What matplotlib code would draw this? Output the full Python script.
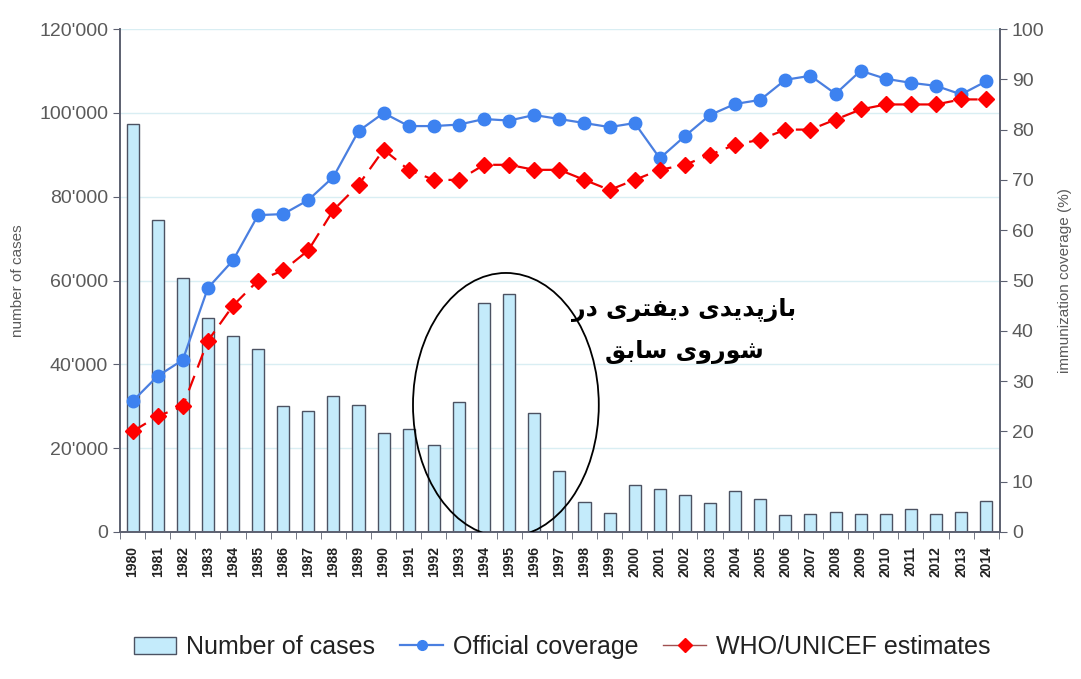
import matplotlib
matplotlib.use("Agg")
import matplotlib.pyplot as plt
from matplotlib.patches import Ellipse, Patch
from matplotlib.lines import Line2D

years = [str(y) for y in range(1980, 2015)]
cases = [97300, 74400, 60600, 51000, 46800, 43700, 30100, 28900, 32400, 30300,
         23600, 24600, 20800, 31100, 54600, 56800, 28500, 14600, 7200, 4500,
         11300, 10300, 8800, 6900, 9900, 7900, 4100, 4400, 4700, 4400,
         4400, 5400, 4400, 4700, 7300]
official = [26, 31, 34.2, 48.5, 54, 63, 63.2, 66, 70.6, 79.7,
            83.3, 80.7, 80.7, 81, 82.1, 81.8, 82.9, 82.1, 81.3, 80.5,
            81.3, 74.3, 78.7, 82.9, 85.1, 85.9, 89.9, 90.7, 87.1, 91.7,
            90.1, 89.3, 88.7, 87, 89.6]
who = [20, 23, 25, 38, 45, 50, 52, 56, 64, 69,
       76, 72, 70, 70, 73, 73, 72, 72, 70, 68,
       70, 72, 73, 75, 77, 78, 80, 80, 82, 84,
       85, 85, 85, 86, 86]
left_ticks = [0, 20000, 40000, 60000, 80000, 100000, 120000]
left_labels = ["0", "20'000", "40'000", "60'000", "80'000", "100'000", "120'000"]
right_ticks = list(range(0, 101, 10))
note_lines = ["بازپدیدی دیفتری در", "شوروی سابق"]
legend_labels = ["Number of cases", "Official coverage", "WHO/UNICEF estimates"]

# minimal Persian shaping (matplotlib has no complex text layout)
FORMS = {
    'ا': ('\uFE8D', '\uFE8E', None, None),
    'ب': ('\uFE8F', '\uFE90', '\uFE91', '\uFE92'),
    'پ': ('\uFB56', '\uFB57', '\uFB58', '\uFB59'),
    'ت': ('\uFE95', '\uFE96', '\uFE97', '\uFE98'),
    'د': ('\uFEA9', '\uFEAA', None, None),
    'ر': ('\uFEAD', '\uFEAE', None, None),
    'ز': ('\uFEAF', '\uFEB0', None, None),
    'س': ('\uFEB1', '\uFEB2', '\uFEB3', '\uFEB4'),
    'ش': ('\uFEB5', '\uFEB6', '\uFEB7', '\uFEB8'),
    'ف': ('\uFED1', '\uFED2', '\uFED3', '\uFED4'),
    'ق': ('\uFED5', '\uFED6', '\uFED7', '\uFED8'),
    'و': ('\uFEED', '\uFEEE', None, None),
    'ی': ('\uFBFC', '\uFBFD', '\uFBFE', '\uFBFF'),
}


def shape(s):
    out = []
    n = len(s)
    for i, ch in enumerate(s):
        if ch not in FORMS:
            out.append(ch)
            continue
        f = FORMS[ch]
        prev = s[i - 1] if i > 0 else None
        nxt = s[i + 1] if i < n - 1 else None
        jp = prev in FORMS and FORMS[prev][2] is not None
        jn = f[2] is not None and nxt in FORMS
        if jp and jn:
            g = f[3]
        elif jp:
            g = f[1]
        elif jn:
            g = f[2]
        else:
            g = f[0]
        out.append(g)
    return ''.join(reversed(out))


plt.rcParams['font.family'] = ['Liberation Sans', 'DejaVu Sans']
tick_col = '#5a5a5a'
spine_col = '#5c6070'

fig = plt.figure(figsize=(10.81, 6.79), dpi=100)
ax1 = fig.add_axes([120 / 1081, 1 - 532 / 679, 880 / 1081, 503 / 679])
ax2 = ax1.twinx()

x = list(range(len(years)))
ax1.bar(x, cases, width=0.48, color='#c4ebfb', edgecolor='#4c5262', linewidth=1.0, zorder=2)
ax1.set_ylim(0, 120000)
ax1.set_xlim(-0.45, 34.55)
ax1.set_yticks(left_ticks)
ax1.set_yticklabels(left_labels)
ax1.yaxis.grid(True, color='#d9eef3', linewidth=1.0, zorder=0)
ax1.set_axisbelow(True)

ax1.set_xticks(x)
ax1.set_xticklabels(years, rotation=90, fontsize=10, fontweight='bold', color='#222222')
ax1.tick_params(axis='x', which='major', length=0, pad=10)
ax1.set_xticks([i + 0.5 for i in range(-1, len(years))], minor=True)
ax1.tick_params(axis='x', which='minor', length=5, color=spine_col, direction='out')
ax1.tick_params(axis='y', labelsize=14, labelcolor=tick_col, color=spine_col, length=5)
ax1.set_ylabel('number of cases', fontsize=11, color=tick_col, labelpad=10)

ax2.plot(x, official, color='#4a7fe0', linewidth=1.6, marker='o', markersize=9,
         markerfacecolor='#3d82f0', markeredgecolor='#3d82f0', zorder=4)
ax2.plot(x, who, color='#ee0000', linewidth=1.6, linestyle=(0, (7, 4)), marker='D',
         markersize=8, markerfacecolor='#ff0000', markeredgecolor='#ff0000', zorder=5)
ax2.set_ylim(0, 100)
ax2.set_yticks(right_ticks)
ax2.tick_params(axis='y', labelsize=14, labelcolor=tick_col, color=spine_col, length=5)
ax2.set_ylabel('immunization coverage (%)', fontsize=11, color=tick_col, labelpad=10)

for ax in (ax1, ax2):
    ax.spines['top'].set_visible(False)
    for s in ('left', 'right', 'bottom'):
        ax.spines[s].set_color(spine_col)
        ax.spines[s].set_linewidth(1.2)

ell = Ellipse((14.87, 30300), width=7.4, height=63000, fill=False,
              edgecolor='black', linewidth=1.3, transform=ax1.transData, zorder=6)
ax2.add_patch(ell)

for i, line in enumerate(note_lines):
    fig.text(684 / 1081, 1 - (310 + 42 * i) / 679, shape(line), ha='center', va='center',
             fontsize=17, fontweight='bold', color='black', family=['DejaVu Sans'])

handles = [
    Patch(facecolor='#c4ebfb', edgecolor='#4c5262', linewidth=1.0),
    Line2D([], [], color='#4a7fe0', linewidth=1.6, marker='o', markersize=7,
           markerfacecolor='#3d82f0', markeredgecolor='#3d82f0'),
    Line2D([], [], color='#a05050', linewidth=1.0, marker='D', markersize=7,
           markerfacecolor='#ff0000', markeredgecolor='#ff0000'),
]
fig.legend(handles, legend_labels, loc='center', bbox_to_anchor=(562 / 1081, 1 - 647 / 679),
           ncol=3, frameon=False, fontsize=18, handlelength=1.7, handletextpad=0.4,
           columnspacing=1.0, labelcolor='#222222')

fig.savefig('out.png', dpi=100)
